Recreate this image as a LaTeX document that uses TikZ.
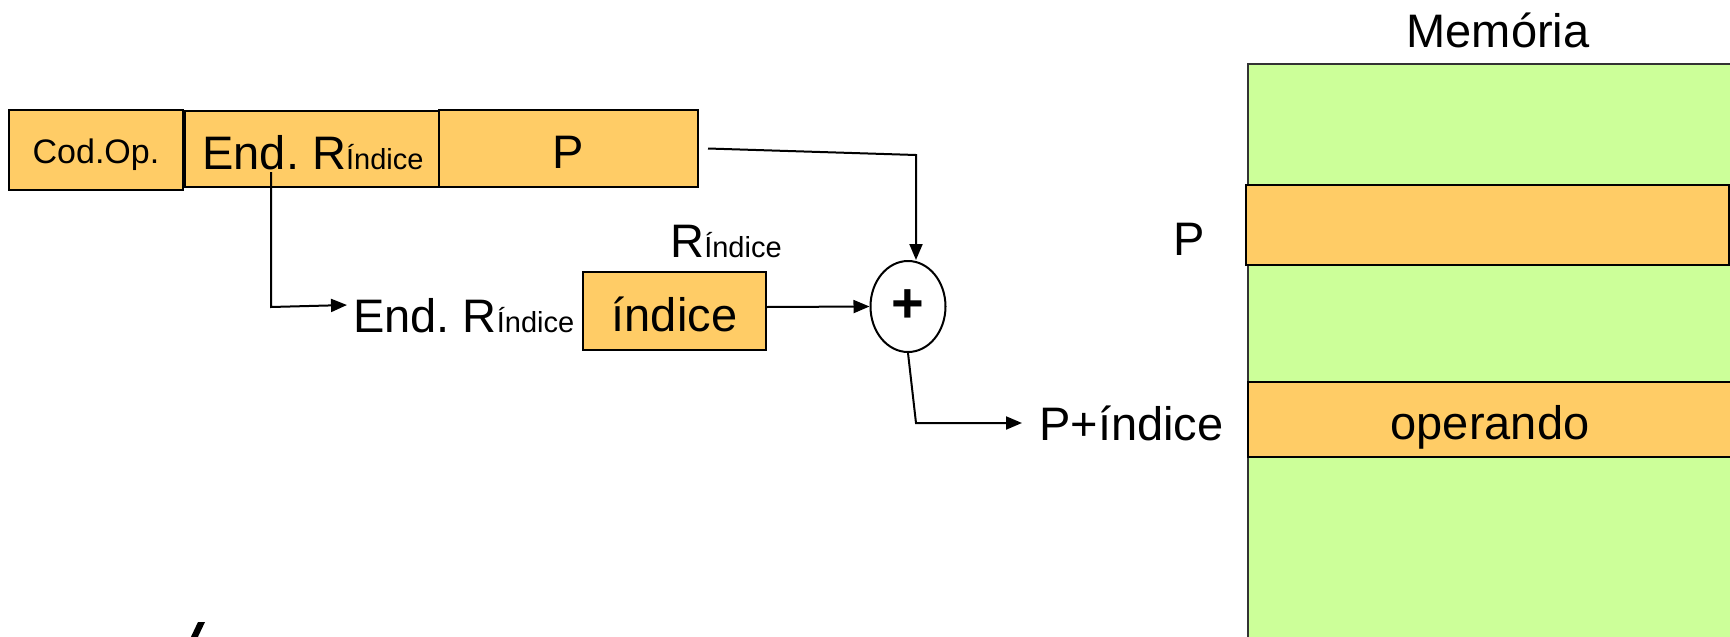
\documentclass[tikz,border=0pt]{standalone}
\usepackage{fontspec}
\setmainfont{Liberation Sans}
\usetikzlibrary{shapes.geometric,arrows.meta,calc}
\definecolor{cellorange}{HTML}{FFCC66}
\definecolor{memgreen}{HTML}{CCFF99}
\newcommand{\bigtxt}{\fontsize{47}{52}\selectfont}
\newcommand{\subtxt}{\fontsize{29}{32}\selectfont}
\newcommand{\codtxt}{\fontsize{34}{38}\selectfont}
\frenchspacing

\begin{document}
\begin{tikzpicture}[x=1pt,y=-1pt,
  field/.style={draw=black,line width=2pt,fill=cellorange,inner sep=0pt,
    text height=40pt,text depth=0pt,font=\bigtxt},
  lbl/.style={inner sep=0pt,anchor=base,font=\bigtxt},
  arr/.style={line width=2pt,-{Triangle[length=16pt,width=13pt]}}]

\clip (0,0) rectangle (1730,637);

% instruction word: opcode | index register address | displacement P
\node[field,minimum width=174pt,minimum height=80pt,text height=26pt,font=\codtxt] (cod) at (96,150) {Cod.Op.};
\node[field,minimum width=256pt,minimum height=76pt] (endr) at (313,149) {End. R{\subtxt Índice}};
\node[field,minimum width=259pt,minimum height=77pt] (pf) at (568.5,148.5) {P};

% index register
\node[lbl,anchor=base west] (endlbl) at (353,332) {End. R{\subtxt Índice}};
\node[field,minimum width=183pt,minimum height=78pt] (idx) at (674.5,311) {índice};
\node[lbl] (ridx) at (726,257) {R{\subtxt Índice}};

% adder
\node[ellipse,draw,line width=2pt,minimum width=75pt,minimum height=91pt,inner sep=0pt,
  font=\fontsize{56}{56}\selectfont\bfseries] (sum) at (908,306.5) {\raisebox{0pt}{+}};
\node[lbl,anchor=base west] (psum) at (1039,440) {P+índice};

% memory
\node[lbl] (memlbl) at (1498,47) {Memória};
\node[draw=black!80,line width=2pt,fill=memgreen,minimum width=497pt,minimum height=586pt,inner sep=0pt] (mem) at (1496.5,357) {};
\node[field,minimum width=483pt,minimum height=80pt] (mp) at (1487.5,225) {};
\node[lbl,anchor=base west] (plbl) at (1173,255) {P};
\node[field,minimum width=484pt,minimum height=75pt] (oper) at (1490,419.5) {operando};

% connections
\coordinate (bendP) at (916,155);
\draw[arr] ([xshift=9pt]pf.east) -- (bendP) -- (bendP |- sum.north);

\coordinate (tapE) at (271,172);
\coordinate (bendE) at (271,307);
\draw[arr] (tapE) -- (bendE) -- ([shift={(-6,-27)}]endlbl.base west);

\draw[arr] ([yshift=4pt]idx.east) -- (sum.west);

\coordinate (bendS) at (916,423);
\draw[arr] (sum.south) -- (bendS) -- ([shift={(-17,-17)}]psum.base west);

% accent stroke of a large letter cut by the lower edge
\fill (189,641) -- (196,641) -- (205,622) -- (198,622) -- cycle;
\end{tikzpicture}
\end{document}
